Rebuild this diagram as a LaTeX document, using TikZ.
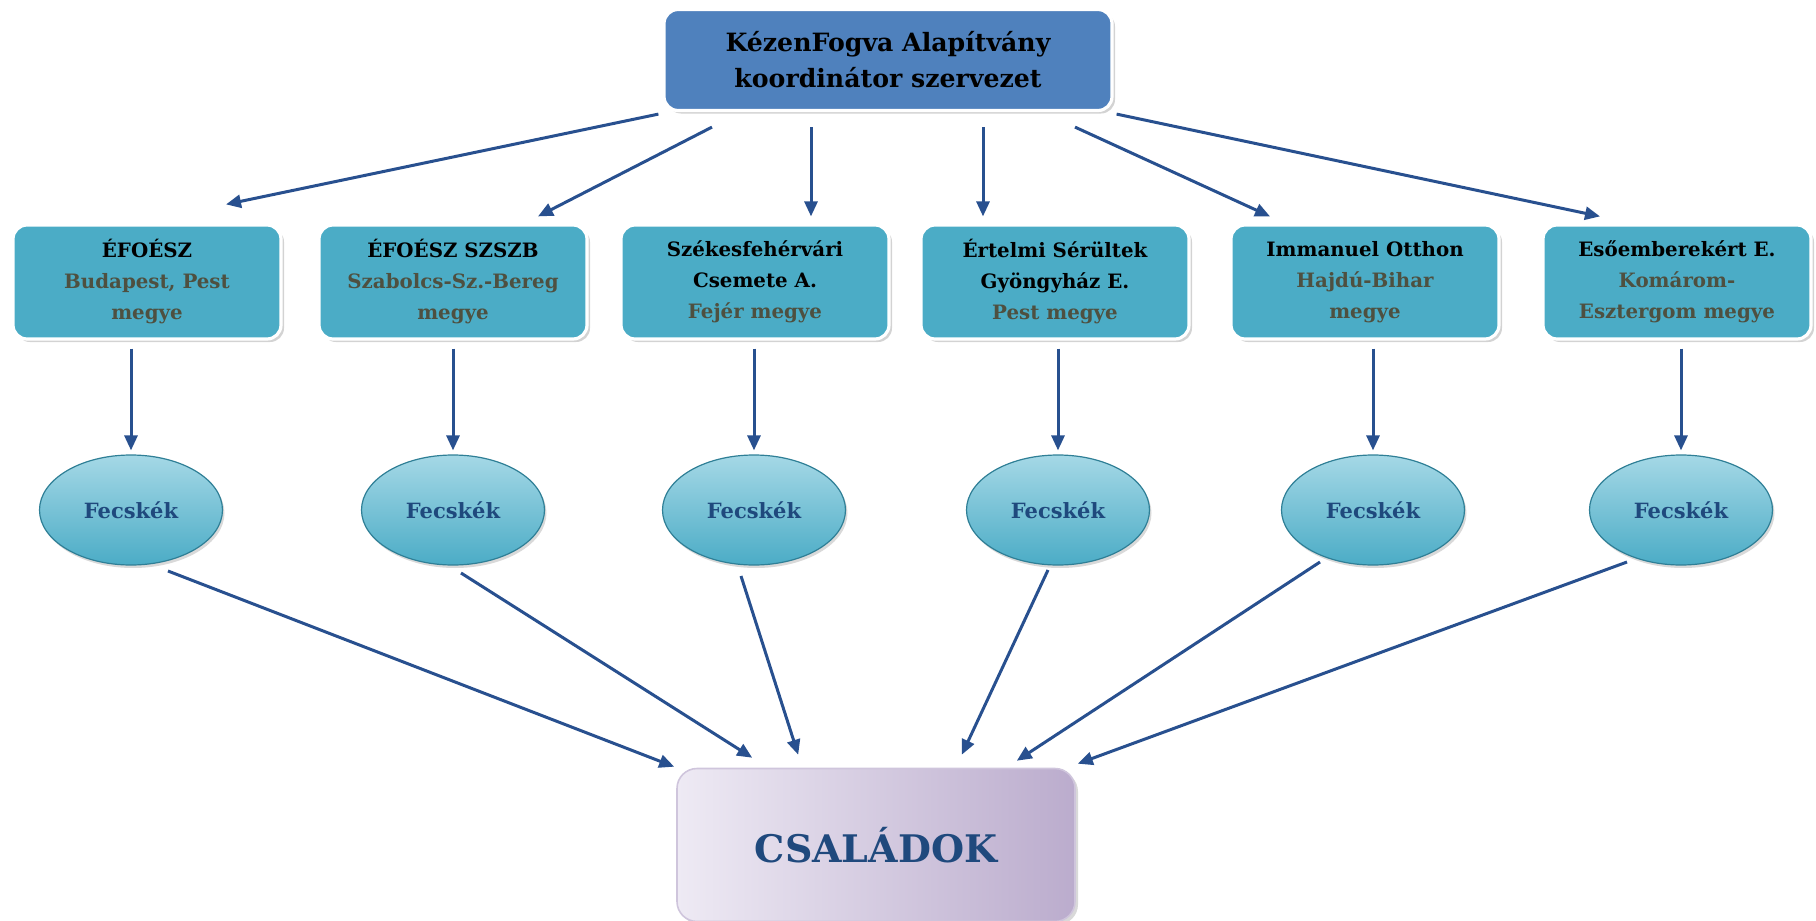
\documentclass[tikz,border=0pt]{standalone}
\usepackage{fontspec}
\setmainfont{DejaVu Serif}
\usetikzlibrary{arrows.meta,calc,shadows,shapes.geometric}

\definecolor{kfblue}{HTML}{4F81BD}
\definecolor{orgteal}{HTML}{4BACC6}
\definecolor{lightteal}{HTML}{A5D8E6}
\definecolor{tealedge}{HTML}{2F7F96}
\definecolor{subgray}{HTML}{4E5040}
\definecolor{darkblue}{HTML}{1F497D}
\definecolor{arrowblue}{HTML}{28508F}
\definecolor{lavlight}{HTML}{EEEAF4}
\definecolor{lavdark}{HTML}{BBACCD}

\begin{document}
\begin{tikzpicture}[x=0.5pt, y=-0.5pt,
  kfbox/.style={rectangle, rounded corners=7pt, draw=white, line width=1.6pt, fill=kfblue,
    drop shadow={opacity=0.35, shadow xshift=1.5pt, shadow yshift=-1.5pt},
    minimum width=224pt, minimum height=50.5pt, align=center,
    font=\bfseries\fontsize{12.6}{18}\selectfont},
  orgbox/.style={rectangle, rounded corners=7pt, draw=white, line width=1.6pt, fill=orgteal,
    drop shadow={opacity=0.35, shadow xshift=1.5pt, shadow yshift=-1.5pt},
    minimum width=134pt, minimum height=57pt, align=center, inner sep=2pt,
    font=\bfseries\fontsize{9.9}{15.5}\selectfont},
  fecske/.style={ellipse, draw=tealedge, line width=0.6pt, top color=lightteal, bottom color=orgteal,
    drop shadow={opacity=0.3, shadow xshift=1pt, shadow yshift=-1.5pt},
    minimum width=91.5pt, minimum height=55pt, text=darkblue,
    font=\bfseries\fontsize{10.5}{12}\selectfont},
  csbox/.style={rectangle, rounded corners=10pt, draw=lavdark!70, line width=0.8pt,
    left color=lavlight, right color=lavdark,
    drop shadow={opacity=0.3, shadow xshift=1.5pt, shadow yshift=-1.5pt},
    minimum width=199pt, minimum height=76.5pt, text=darkblue,
    font=\bfseries\fontsize{19}{21}\selectfont},
  arr/.style={-{Triangle[length=7.5pt,width=6.5pt]}, line width=1.5pt, draw=arrowblue}]

  \useasboundingbox (0,0) rectangle (1816,921);

  % Nodes
  \node[kfbox] (kf) at (888,60) {KézenFogva Alapítvány\\koordinátor szervezet};

  \node[orgbox] (b1) at (147,282) {ÉFOÉSZ\\\textcolor{subgray}{Budapest, Pest}\\\textcolor{subgray}{megye}};
  \node[orgbox] (b2) at (453,282) {ÉFOÉSZ SZSZB\\\textcolor{subgray}{Szabolcs-Sz.-Bereg}\\\textcolor{subgray}{megye}};
  \node[orgbox] (b3) at (755,282) {Székesfehérvári\\Csemete A.\\\textcolor{subgray}{Fejér megye}};
  \node[orgbox] (b4) at (1055,282) {Értelmi Sérültek\\Gyöngyház E.\\\textcolor{subgray}{Pest megye}};
  \node[orgbox] (b5) at (1365,282) {Immanuel Otthon\\\textcolor{subgray}{Hajdú-Bihar}\\\textcolor{subgray}{megye}};
  \node[orgbox] (b6) at (1677,282) {Esőemberekért E.\\\textcolor{subgray}{Komárom-}\\\textcolor{subgray}{Esztergom megye}};

  \node[fecske] (e1) at (131,510) {Fecskék};
  \node[fecske] (e2) at (453,510) {Fecskék};
  \node[fecske] (e3) at (754,510) {Fecskék};
  \node[fecske] (e4) at (1058,510) {Fecskék};
  \node[fecske] (e5) at (1373,510) {Fecskék};
  \node[fecske] (e6) at (1681,510) {Fecskék};

  \node[csbox] (cs) at (876,845) {CSALÁDOK};

  % Edges
  \draw[arr] ($(kf.south west)+(-4,2)$) -- ($(b1.north)+(79,-19)$);
  \draw[arr] ($(kf.south)+(-176,15)$) -- ($(b2.north)+(85,-7)$);
  \draw[arr] ($(kf.south)+(-77,15)$) -- ($(b3.north)+(56,-7)$);
  \draw[arr] ($(kf.south)+(95,15)$) -- ($(b4.north)+(-72,-7)$);
  \draw[arr] ($(kf.south)+(187,15)$) -- ($(b5.north)+(-95,-7)$);
  \draw[arr] ($(kf.south east)+(3,2)$) -- ($(b6.north)+(-77,-7)$);

  \draw[arr, shorten <=4pt, shorten >=2pt] (e1.north |- b1.south) -- (e1.north);
  \draw[arr, shorten <=4pt, shorten >=2pt] (e2.north |- b2.south) -- (e2.north);
  \draw[arr, shorten <=4pt, shorten >=2pt] (e3.north |- b3.south) -- (e3.north);
  \draw[arr, shorten <=4pt, shorten >=2pt] (e4.north |- b4.south) -- (e4.north);
  \draw[arr, shorten <=4pt, shorten >=2pt] (e5.north |- b5.south) -- (e5.north);
  \draw[arr, shorten <=4pt, shorten >=2pt] (e6.north |- b6.south) -- (e6.north);

  \draw[arr] ($(e1.center)+(37,61)$) -- ($(cs.north west)+(-2,-1)$);
  \draw[arr] ($(e2.center)+(8,63)$) -- ($(cs.north west)+(76,-10)$);
  \draw[arr] ($(e3.center)+(-13,66)$) -- ($(cs.north west)+(122,-13)$);
  \draw[arr] ($(e4.center)+(-10,60)$) -- ($(cs.north east)+(-114,-13)$);
  \draw[arr] ($(e5.center)+(-53,52)$) -- ($(cs.north east)+(-59,-7)$);
  \draw[arr] ($(e6.center)+(-54,52)$) -- ($(cs.north east)+(2,-4)$);
\end{tikzpicture}
\end{document}
